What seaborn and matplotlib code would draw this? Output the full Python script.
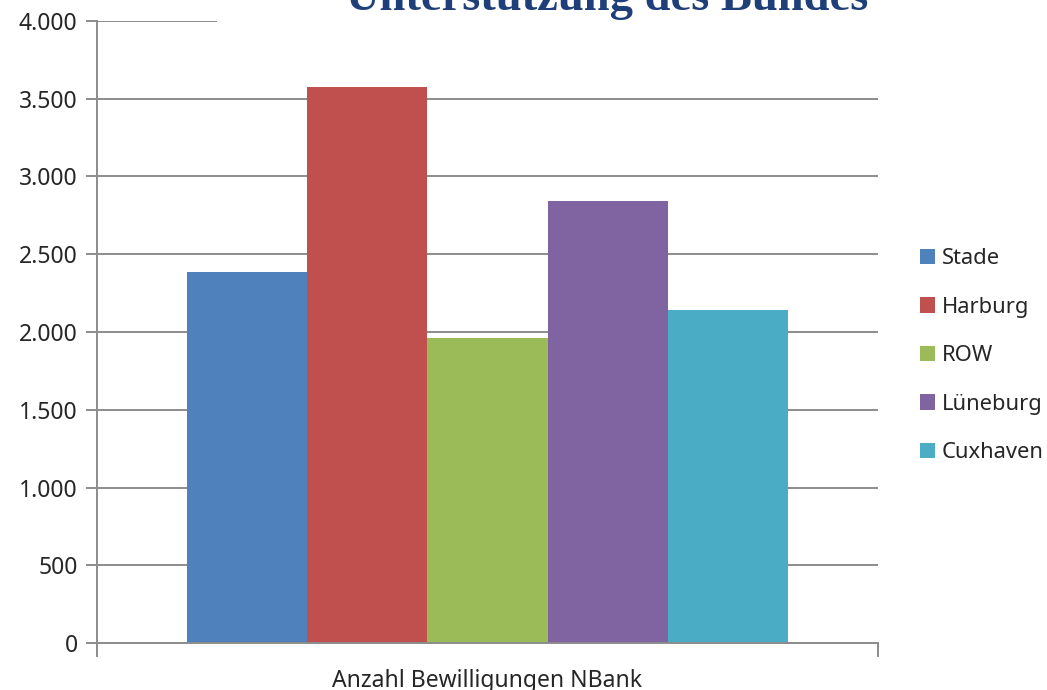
import matplotlib
matplotlib.use("Agg")
import matplotlib.pyplot as plt
from matplotlib.patches import Rectangle
import seaborn as sns
import pandas as pd

sns.set_theme(style="white")
plt.rcParams['font.family'] = ['Noto Sans', 'DejaVu Sans']

category = ["Anzahl Bewilligungen NBank"]
regions = ["Stade", "Harburg", "ROW", "Lüneburg", "Cuxhaven"]
values = [2386, 3576, 1961, 2842, 2141]
colors = ["#4F81BD", "#C0504D", "#9BBB59", "#8064A2", "#4BACC6"]
title = "Unterstützung des Bundes"

df = pd.DataFrame({"kategorie": category * len(regions), "region": regions, "anzahl": values})

fig = plt.figure(figsize=(10.47, 6.9), dpi=100)
ax = fig.add_axes([0.0926, 0.0681, 0.7460, 0.9015])

sns.barplot(data=df, x="kategorie", y="anzahl", hue="region", hue_order=regions,
            palette=colors, width=0.77, gap=0, saturation=1, linewidth=0, ax=ax, legend=True)

ax.set_ylim(0, 4000)
ax.set_xlim(-0.5, 0.5)
ax.set_yticks(range(0, 4001, 500))
ax.set_yticklabels([f"{v:,}".replace(",", ".") for v in range(0, 4001, 500)], fontsize=16.5)
ax.set_xticks([-0.5, 0.5])
ax.set_xticklabels(["", ""])
ax.set_xlabel(category[0], fontsize=16.5, labelpad=3)
ax.set_ylabel("")
ax.yaxis.grid(True, color="#8c8c8c", linewidth=1.4)
ax.set_axisbelow(True)
for s in ["top", "right"]:
    ax.spines[s].set_visible(False)
for s in ["left", "bottom"]:
    ax.spines[s].set_color("#8c8c8c")
    ax.spines[s].set_linewidth(1.4)
ax.tick_params(axis="both", direction="out", length=8, width=1.4, color="#8c8c8c", pad=6)
ax.tick_params(axis="y", left=True)
ax.tick_params(axis="x", bottom=True, length=10)

ax.legend(loc="center left", bbox_to_anchor=(1.028, 0.462), frameon=False, fontsize=15.8,
          handlelength=0.7, handleheight=0.7, handletextpad=0.3, labelspacing=1.25)

# white box behind the cut-off title
fig.patches.append(Rectangle((217 / 1047, 0.955), 1, 0.1, transform=fig.transFigure,
                             facecolor="white", edgecolor="none", zorder=5))
fig.text(0.58, 0.985, title, ha="center", va="baseline", fontsize=33.5, fontweight="bold",
         family="Liberation Serif", color="#1F3F7A", zorder=6)

fig.savefig("out.png", dpi=100)
